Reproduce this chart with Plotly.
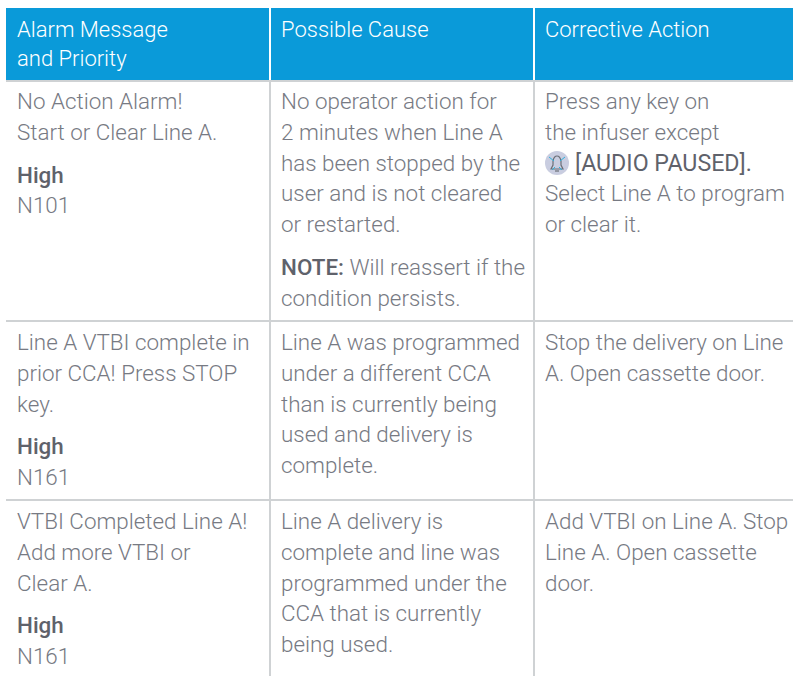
import plotly.graph_objects as go

headers = [["Alarm Message", "and Priority"], ["Possible Cause"], ["Corrective Action"]]

row1 = [
    [["No Action Alarm!", "Start or Clear Line A."], ["<b>High</b>", "N101"]],
    [["No operator action for", "2 minutes when Line A", "has been stopped by the", "user and is not cleared", "or restarted."],
     ["<b>NOTE:</b> Will reassert if the", "condition persists."]],
    [["Press any key on", "the infuser except", "ICON[AUDIO PAUSED].", "Select Line A to program", "or clear it."]],
]
row2 = [
    [["Line A VTBI complete in", "prior CCA! Press STOP", "key."], ["<b>High</b>", "N161"]],
    [["Line A was programmed", "under a different CCA", "than is currently being", "used and delivery is", "complete."]],
    [["Stop the delivery on Line", "A. Open cassette door."]],
]
row3 = [
    [["VTBI Completed Line A!", "Add more VTBI or", "Clear A."], ["<b>High</b>", "N161"]],
    [["Line A delivery is", "complete and line was", "programmed under the", "CCA that is currently", "being used."]],
    [["Add VTBI on Line A. Stop", "Line A. Open cassette", "door."]],
]
rows = [row1, row2, row3]

W, H = 793, 676
TEXT = "#777a83"
DARK = "#5f626b"
GRID = "#cfd2d4"
BLUE = "#0a9ad9"
FONT = "Roboto"
SIZE = 22.4
col_left = [6, 271, 535]
col_right = [269, 533, 793]
text_x = [17, 281, 545]
row_first_line = [101, 342, 521]
row_sep = [81, 321, 500]
LINE, GAP = 30.8, 12

shapes, ann = [], []
for l, r in zip(col_left, col_right):
    shapes.append(dict(type="rect", x0=l, x1=r, y0=8, y1=80, fillcolor=BLUE, line_width=0))
for y in row_sep:
    shapes.append(dict(type="line", x0=6, x1=W, y0=y, y1=y, line=dict(color=GRID, width=2)))
for x in (270, 534):
    shapes.append(dict(type="line", x0=x, x1=x, y0=81, y1=H, line=dict(color=GRID, width=2)))


def put(x, y, s, color=TEXT, size=SIZE, weight=300):
    s = s.replace("<b>", f'<span style="font-weight:500;color:{DARK}">').replace("</b>", "</span>")
    ann.append(dict(x=x, y=y, xref="x", yref="y", text=s, showarrow=False, xanchor="left", yanchor="middle",
                    align="left", font=dict(family=FONT, size=size, color=color, weight=weight),
                    borderpad=0, borderwidth=0))


for c, lines in enumerate(headers):
    for i, s in enumerate(lines):
        put(text_x[c], 29 + i * 29.5, s, "#ffffff", 22)

for r, row in enumerate(rows):
    for c, cell in enumerate(row):
        y = row_first_line[r]
        for p, para in enumerate(cell):
            if p:
                y += GAP
            for s in para:
                if s.startswith("ICON"):
                    shapes.append(dict(type="circle", x0=545, x1=569, y0=151, y1=175, fillcolor="#c9cde0", line_width=0))
                    shapes.append(dict(type="path", path="M 551 169 L 563 169 L 561 165 L 561 161 Q 560 156 557 156 Q 554 156 553 161 L 553 165 Z",
                                       line=dict(color="#6b6e76", width=1.2), fillcolor="rgba(0,0,0,0)"))
                    shapes.append(dict(type="line", x0=555, x1=559, y0=171, y1=171, line=dict(color="#6b6e76", width=1.2)))
                    shapes.append(dict(type="line", x0=549, x1=554, y0=157, y1=161, line=dict(color="#2fb0dc", width=1)))
                    shapes.append(dict(type="line", x0=565, x1=560, y0=157, y1=161, line=dict(color="#2fb0dc", width=1)))
                    shapes.append(dict(type="line", x0=552, x1=555, y0=170, y1=167, line=dict(color="#2fb0dc", width=1)))
                    shapes.append(dict(type="line", x0=562, x1=559, y0=170, y1=167, line=dict(color="#2fb0dc", width=1)))
                    put(575, y, s[4:], DARK, 23.2, 400)
                else:
                    put(text_x[c], y, s, TEXT)
                y += LINE

fig = go.Figure()
fig.update_layout(width=W, height=H, margin=dict(l=0, r=0, t=0, b=0), paper_bgcolor="white", plot_bgcolor="white",
                  xaxis=dict(range=[0, W], visible=False, fixedrange=True),
                  yaxis=dict(range=[H, 0], visible=False, fixedrange=True),
                  shapes=shapes, annotations=ann, showlegend=False)
fig.write_html("out.html", config=dict(displayModeBar=False),
               post_script="document.body.style.margin='0';document.body.style.overflow='hidden';")
